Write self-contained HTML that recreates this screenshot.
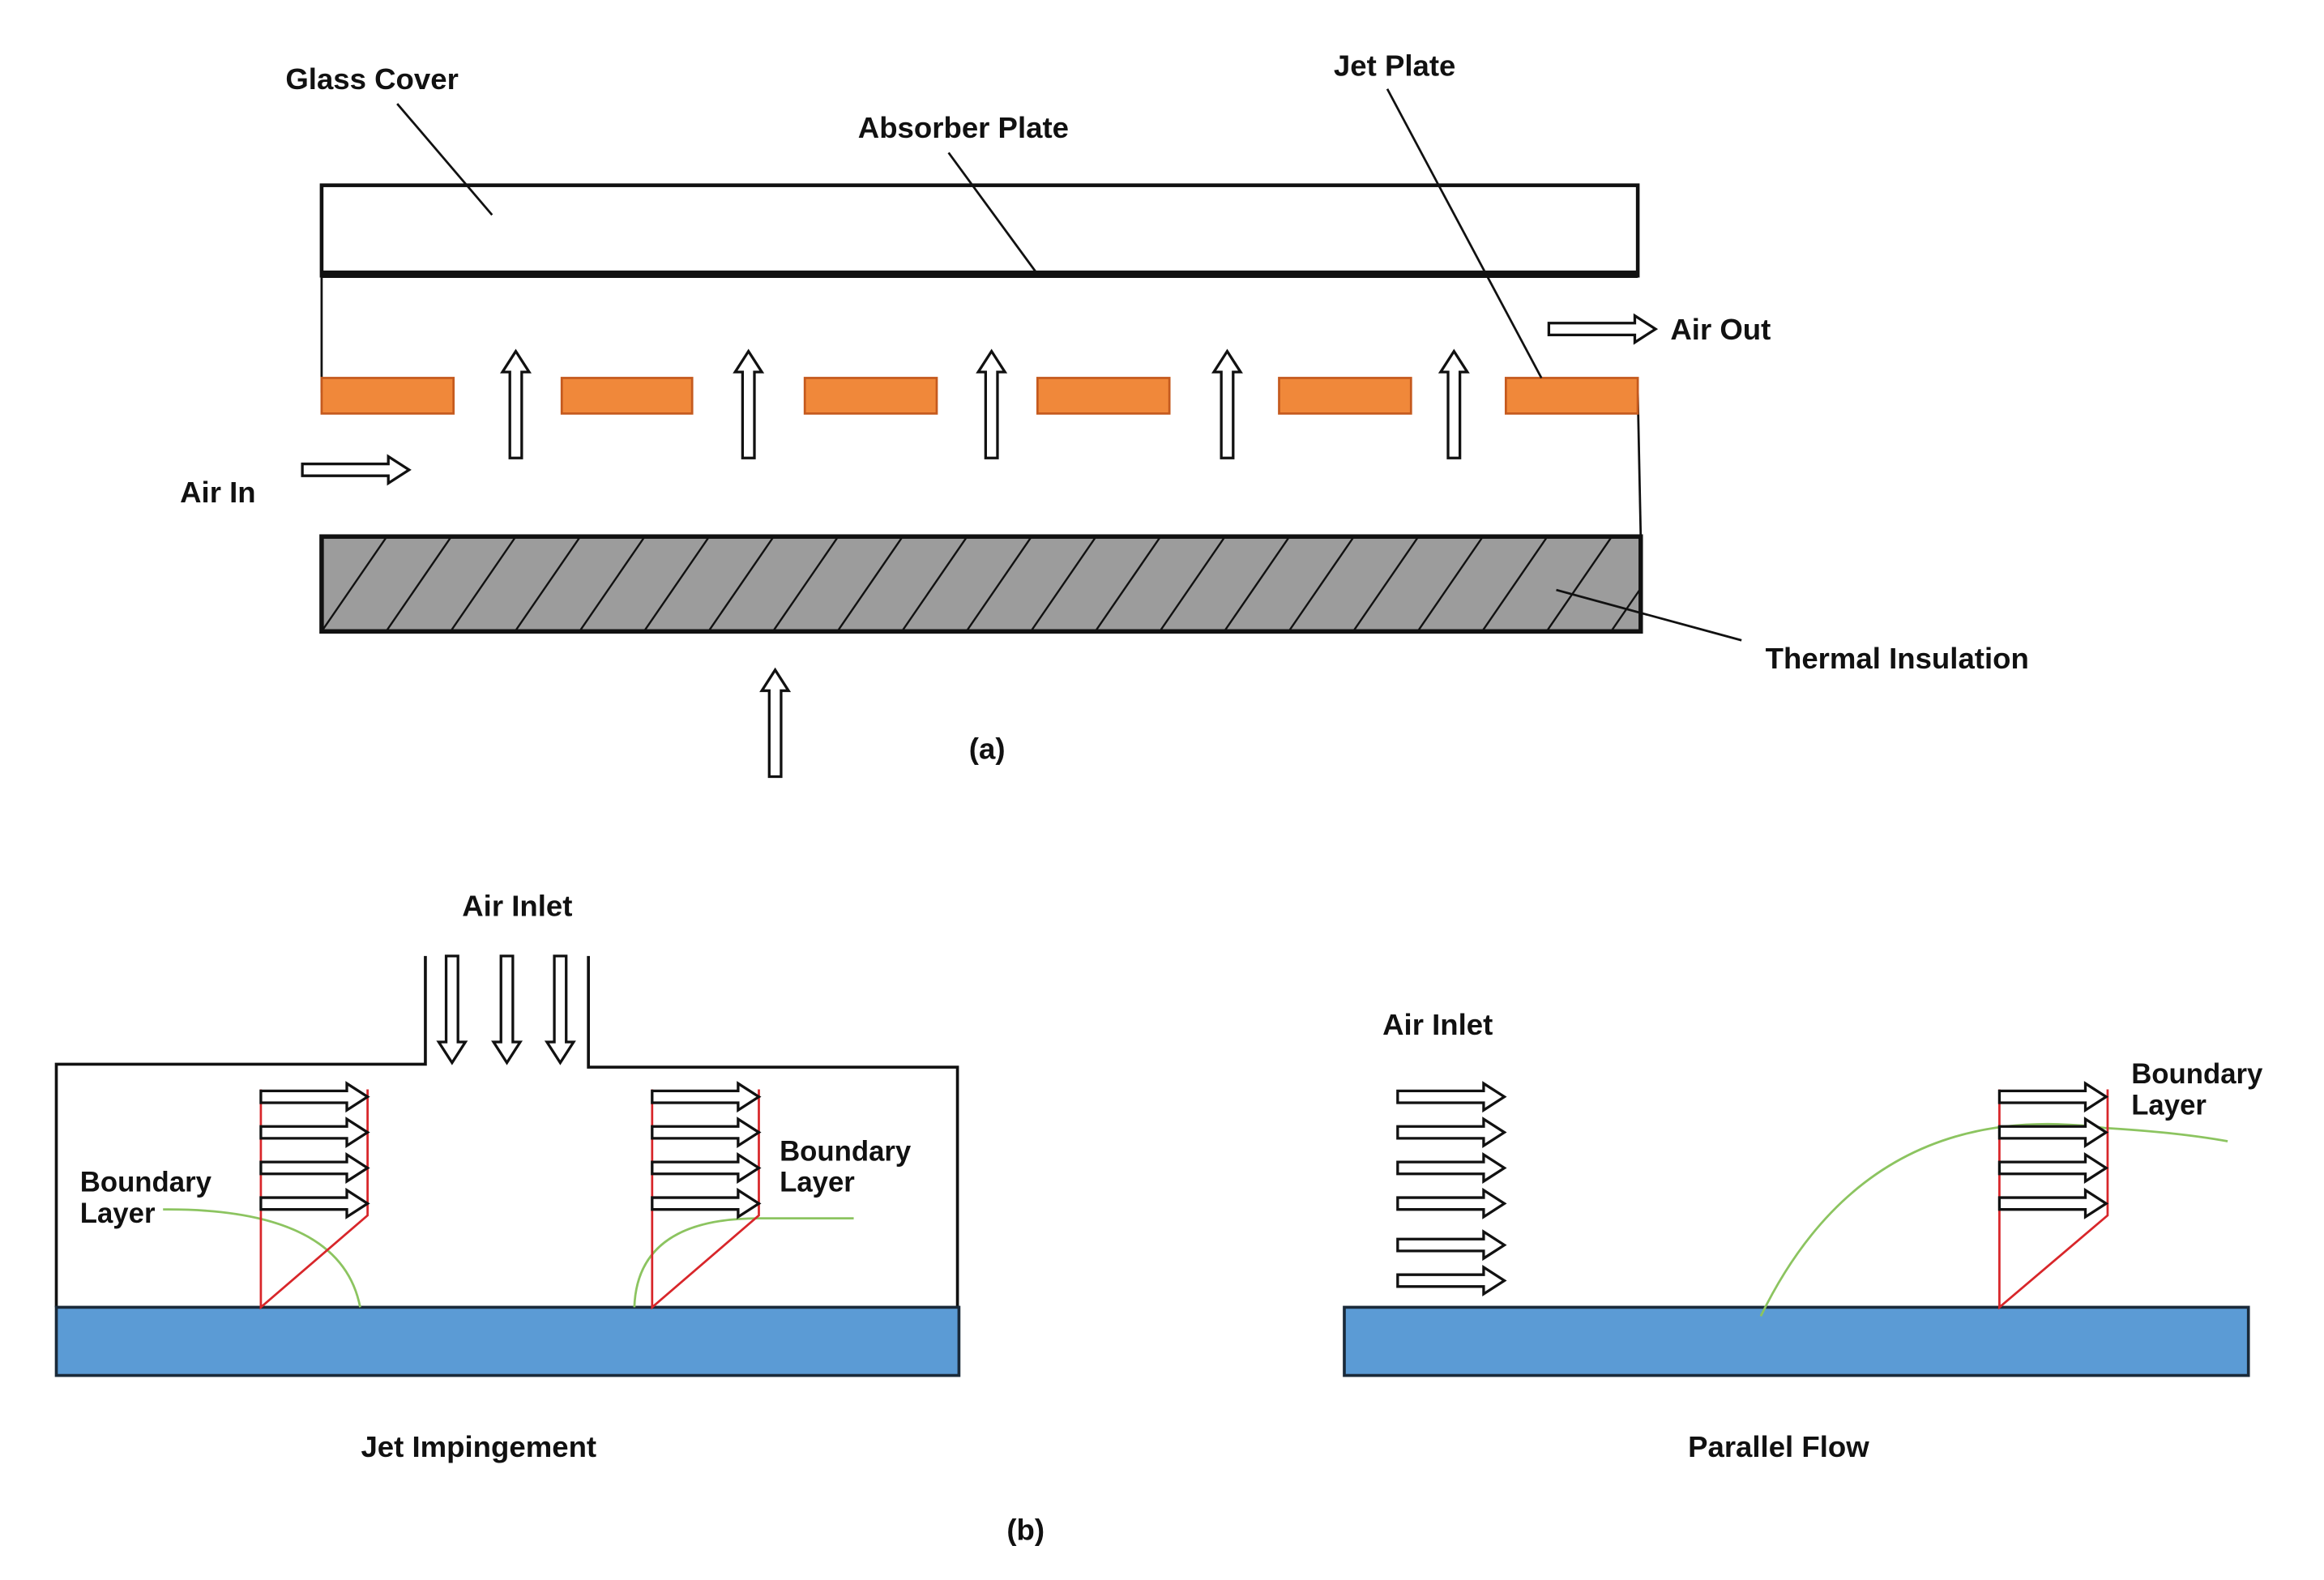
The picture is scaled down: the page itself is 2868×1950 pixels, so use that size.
<!DOCTYPE html>
<html><head><meta charset="utf-8"><style>
html,body{margin:0;padding:0;background:#fff;}
svg{display:block;}
text{font-family:"Liberation Sans",sans-serif;font-weight:bold;fill:#111;}
</style></head><body>
<svg width="2868" height="1950" viewBox="0 0 1568 1066" preserveAspectRatio="none" xmlns="http://www.w3.org/2000/svg">
<defs>
<path id="ar" d="M0,-4 H58 V-9 L72,0 L58,9 V4 H0 Z" fill="#fff" stroke="#111" stroke-width="1.8"/>
<clipPath id="ins"><rect x="218" y="363" width="888" height="62"/></clipPath>
</defs>
<!-- (a) -->
<rect x="217" y="125" width="888" height="61" fill="#fff" stroke="#111" stroke-width="2.5"/>
<line x1="217" y1="185" x2="1105" y2="185" stroke="#111" stroke-width="5"/>
<line x1="217" y1="187" x2="217" y2="265" stroke="#111" stroke-width="1.5"/>
<line x1="1105" y1="265" x2="1107" y2="362" stroke="#111" stroke-width="1.5"/>
<g fill="#f0883a" stroke="#c55a1e" stroke-width="1.5">
<rect x="217" y="255" width="89" height="24"/>
<rect x="379" y="255" width="88" height="24"/>
<rect x="543" y="255" width="89" height="24"/>
<rect x="700" y="255" width="89" height="24"/>
<rect x="863" y="255" width="89" height="24"/>
<rect x="1016" y="255" width="89" height="24"/>
</g>
<use href="#ar" transform="translate(348,309) rotate(-90)"/>
<use href="#ar" transform="translate(505,309) rotate(-90)"/>
<use href="#ar" transform="translate(669,309) rotate(-90)"/>
<use href="#ar" transform="translate(828,309) rotate(-90)"/>
<use href="#ar" transform="translate(981,309) rotate(-90)"/>
<use href="#ar" transform="translate(523,524) rotate(-90)"/>
<use href="#ar" transform="translate(1045,222)"/>
<use href="#ar" transform="translate(204,317)"/>
<rect x="217" y="362" width="890" height="64" fill="#9c9c9c" stroke="#111" stroke-width="3"/>
<g clip-path="url(#ins)" stroke="#111" stroke-width="1.3">
<line x1="217" y1="426" x2="261" y2="362"/><line x1="260.5" y1="426" x2="304.5" y2="362"/><line x1="304" y1="426" x2="348" y2="362"/><line x1="347.5" y1="426" x2="391.5" y2="362"/><line x1="391" y1="426" x2="435" y2="362"/><line x1="434.5" y1="426" x2="478.5" y2="362"/><line x1="478" y1="426" x2="522" y2="362"/><line x1="521.5" y1="426" x2="565.5" y2="362"/><line x1="565" y1="426" x2="609" y2="362"/><line x1="608.5" y1="426" x2="652.5" y2="362"/><line x1="652" y1="426" x2="696" y2="362"/><line x1="695.5" y1="426" x2="739.5" y2="362"/><line x1="739" y1="426" x2="783" y2="362"/><line x1="782.5" y1="426" x2="826.5" y2="362"/><line x1="826" y1="426" x2="870" y2="362"/><line x1="869.5" y1="426" x2="913.5" y2="362"/><line x1="913" y1="426" x2="957" y2="362"/><line x1="956.5" y1="426" x2="1000.5" y2="362"/><line x1="1000" y1="426" x2="1044" y2="362"/><line x1="1043.5" y1="426" x2="1087.5" y2="362"/><line x1="1087" y1="426" x2="1131" y2="362"/>
</g>
<g stroke="#111" stroke-width="1.5">
<line x1="268" y1="70" x2="332" y2="145"/>
<line x1="640" y1="103" x2="700" y2="185"/>
<line x1="936" y1="60" x2="1040" y2="255"/>
<line x1="1050" y1="398" x2="1175" y2="432"/>
</g>
<text x="251" y="60" font-size="20" text-anchor="middle">Glass Cover</text>
<text x="650" y="93" font-size="20" text-anchor="middle">Absorber Plate</text>
<text x="941" y="51" font-size="20" text-anchor="middle">Jet Plate</text>
<text x="1127" y="229" font-size="20">Air Out</text>
<text x="147" y="339" font-size="20" text-anchor="middle">Air In</text>
<text x="1280" y="451" font-size="20" text-anchor="middle">Thermal Insulation</text>
<text x="666" y="512" font-size="20" text-anchor="middle">(a)</text>
<!-- (b) left -->
<path d="M38,882 V718 H287 V645 M397,645 V720 H646 V882" fill="none" stroke="#111" stroke-width="2"/>
<use href="#ar" transform="translate(305,645) rotate(90)"/>
<use href="#ar" transform="translate(342,645) rotate(90)"/>
<use href="#ar" transform="translate(378,645) rotate(90)"/>
<rect x="38" y="882" width="609" height="46" fill="#5b9bd5" stroke="#1a2a3a" stroke-width="2"/>
<g fill="none" stroke-width="1.5">
<path d="M110,816 Q230,815 243,882" stroke="#8cc460"/>
<path d="M428,882 Q430,822 512,822 H576" stroke="#8cc460"/>
<path d="M176,735 V882 L248,820 V735" stroke="#d8262a"/>
<path d="M440,735 V882 L512,820 V735" stroke="#d8262a"/>
</g>
<use href="#ar" transform="translate(176,740)"/><use href="#ar" transform="translate(176,764)"/><use href="#ar" transform="translate(176,788)"/><use href="#ar" transform="translate(176,812)"/>
<use href="#ar" transform="translate(440,740)"/><use href="#ar" transform="translate(440,764)"/><use href="#ar" transform="translate(440,788)"/><use href="#ar" transform="translate(440,812)"/>
<text x="349" y="618" font-size="20" text-anchor="middle">Air Inlet</text>
<text x="54" y="804" font-size="19">Boundary</text>
<text x="54" y="825" font-size="19">Layer</text>
<text x="526" y="783" font-size="19">Boundary</text>
<text x="526" y="804" font-size="19">Layer</text>
<text x="323" y="983" font-size="20" text-anchor="middle">Jet Impingement</text>
<!-- (b) right -->
<rect x="907" y="882" width="610" height="46" fill="#5b9bd5" stroke="#1a2a3a" stroke-width="2"/>
<path d="M1188,888 Q1260,740 1420,761 Q1470,764 1503,770" fill="none" stroke="#8cc460" stroke-width="1.5"/>
<path d="M1349,735 V882 L1422,820 V735" fill="none" stroke="#d8262a" stroke-width="1.5"/>
<use href="#ar" transform="translate(943,740)"/><use href="#ar" transform="translate(943,764)"/><use href="#ar" transform="translate(943,788)"/><use href="#ar" transform="translate(943,812)"/><use href="#ar" transform="translate(943,840)"/><use href="#ar" transform="translate(943,864)"/>
<use href="#ar" transform="translate(1349,740)"/><use href="#ar" transform="translate(1349,764)"/><use href="#ar" transform="translate(1349,788)"/><use href="#ar" transform="translate(1349,812)"/>
<text x="970" y="698" font-size="20" text-anchor="middle">Air Inlet</text>
<text x="1438" y="731" font-size="19">Boundary</text>
<text x="1438" y="752" font-size="19">Layer</text>
<text x="1200" y="983" font-size="20" text-anchor="middle">Parallel Flow</text>
<text x="692" y="1039" font-size="20" text-anchor="middle">(b)</text>
</svg>
</body></html>
